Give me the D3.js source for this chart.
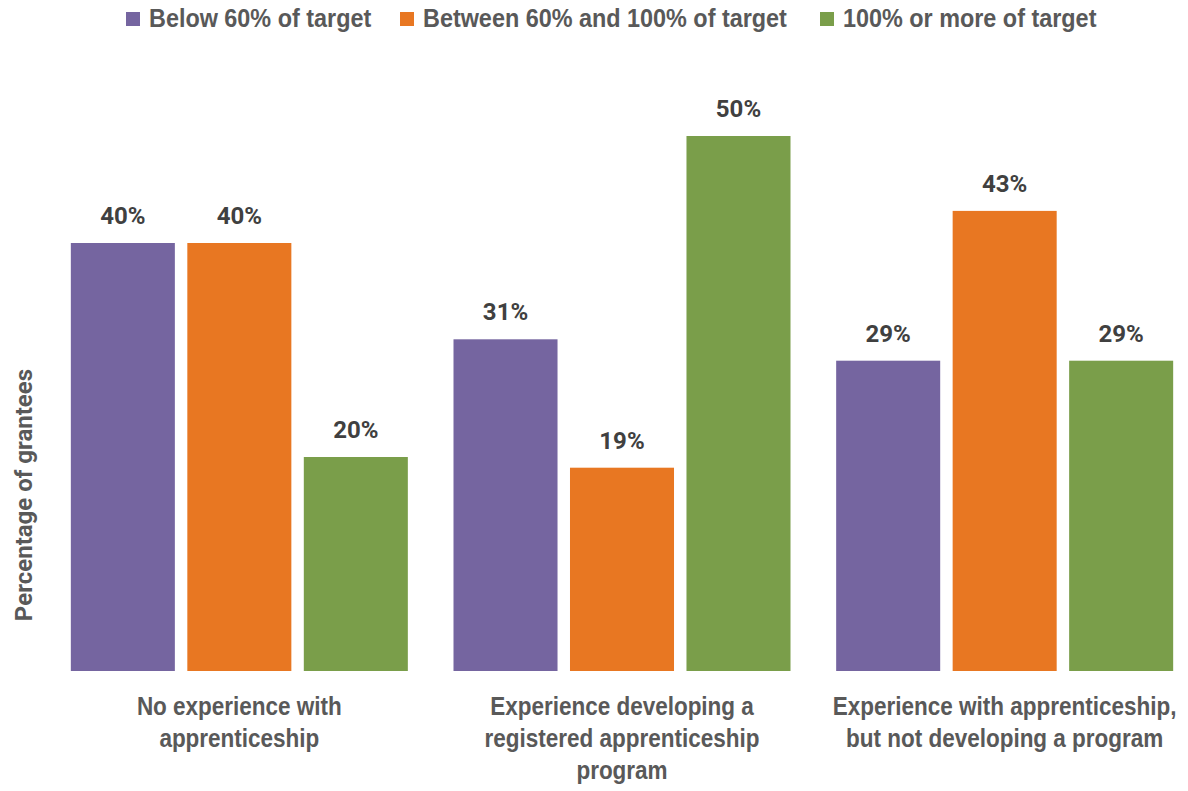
<!DOCTYPE html>
<html>
<head>
<meta charset="utf-8">
<script src="https://cdn.jsdelivr.net/npm/d3@7"></script>
<style>
  html, body { margin: 0; padding: 0; background: #fff; }
  svg { display: block; }
  .cond { font-family: "Liberation Sans", Arial, sans-serif; font-weight: bold; }
</style>
</head>
<body>
<svg id="chart" width="1188" height="791"></svg>
<script>
// Grantee experience groups (x axis), with line breaks for the labels
const categories = [
  "No experience with apprenticeship",
  "Experience developing a registered apprenticeship program",
  "Experience with apprenticeship, but not developing a program"
];
const categoryLines = [
  ["No experience with", "apprenticeship"],
  ["Experience developing a", "registered apprenticeship", "program"],
  ["Experience with apprenticeship,", "but not developing a program"]
];
const seriesNames = ["Below 60% of target", "Between 60% and 100% of target", "100% or more of target"];
const seriesColors = ["#7565a0", "#e87722", "#7a9e4a"];

// Percentage of grantees per series, one value per category
const below60 = [40, 31, 29];
const between60and100 = [40, 19, 43];
const atOrAbove100 = [20, 50, 29];
const seriesValues = [below60, between60and100, atOrAbove100];

// Horizontal squeeze that gives the condensed lettering
const squeeze = 0.9;

const svg = d3.select("#chart");

const x0 = d3.scaleBand().domain(categories).range([48, 1196]).paddingInner(0).paddingOuter(0);
const x1 = d3.scaleBand().domain(seriesNames).range([0, x0.bandwidth()])
  .paddingInner(0.107).paddingOuter(0.196);
const y = d3.scaleLinear().domain([0, 60]).range([671, 29]);

const rows = categories.map((c, i) => ({
  category: c,
  values: seriesNames.map((s, j) => ({ series: s, value: seriesValues[j][i], color: seriesColors[j] }))
}));

const groups = svg.append("g").selectAll("g")
  .data(rows).join("g")
  .attr("transform", d => `translate(${x0(d.category)},0)`);

groups.selectAll("rect")
  .data(d => d.values).join("rect")
  .attr("x", d => x1(d.series))
  .attr("y", d => y(d.value))
  .attr("width", x1.bandwidth())
  .attr("height", d => y(0) - y(d.value))
  .attr("fill", d => d.color);

groups.selectAll("text.val")
  .data(d => d.values).join("text")
  .attr("class", "val")
  .attr("x", d => x1(d.series) + x1.bandwidth() / 2)
  .attr("y", d => y(d.value) - 19)
  .attr("text-anchor", "middle")
  .attr("font-family", "Roboto, sans-serif")
  .attr("font-weight", "bold")
  .attr("font-size", 24)
  .attr("fill", "#404040")
  .text(d => d.value + "%");

// Category labels under the groups
const catLabels = svg.append("g").selectAll("text")
  .data(categories).join("text")
  .attr("class", "cond")
  .attr("text-anchor", "middle")
  .attr("font-size", 25)
  .attr("fill", "#595959")
  .attr("transform", d => `translate(${x0(d) + x0.bandwidth() / 2},715) scale(${squeeze},1)`);
catLabels.each(function(d, i) {
  d3.select(this).selectAll("tspan")
    .data(categoryLines[i]).join("tspan")
    .attr("x", 0)
    .attr("dy", (t, k) => k === 0 ? 0 : 32)
    .text(t => t);
});

// Y axis title
svg.append("text")
  .attr("transform", "translate(32,495) rotate(-90)")
  .attr("text-anchor", "middle")
  .attr("font-family", "Roboto, sans-serif")
  .attr("font-weight", "bold")
  .attr("font-size", 24)
  .attr("fill", "#595959")
  .text("Percentage of grantees");

// Legend
const legendX = [126, 400, 820];
const legend = svg.append("g").selectAll("g")
  .data(seriesNames).join("g")
  .attr("transform", (d, i) => `translate(${legendX[i]},0)`);
legend.append("rect")
  .attr("x", 0).attr("y", 12).attr("width", 14).attr("height", 14)
  .attr("fill", (d, i) => seriesColors[i]);
legend.append("text")
  .attr("class", "cond")
  .attr("transform", `translate(23,27) scale(${squeeze},1)`)
  .attr("font-size", 26)
  .attr("fill", "#595959")
  .text(d => d);
</script>
</body>
</html>
